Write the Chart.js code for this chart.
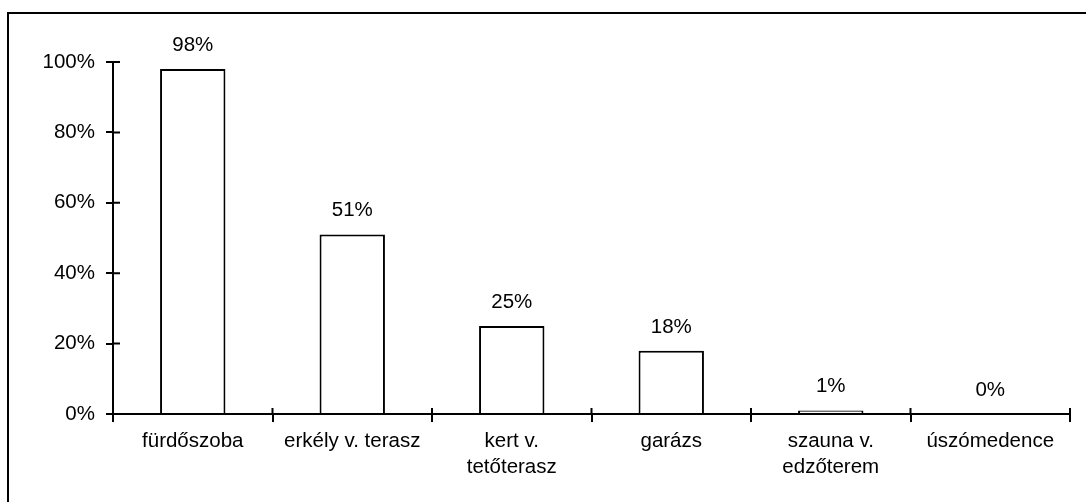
<!DOCTYPE html>
<html>
<head>
<meta charset="utf-8">
<script src="https://cdn.jsdelivr.net/npm/chart.js@4/dist/chart.umd.min.js"></script>
<style>
html,body{margin:0;padding:0;background:#fff;}
canvas{display:block;}
</style>
</head>
<body>
<canvas id="c" width="1087" height="502"></canvas>
<script>
const categories = ['fürdőszoba', 'erkély v. terasz', ['kert v.', 'tetőterasz'], 'garázs', ['szauna v.', 'edzőterem'], 'úszómedence'];
const values = [98, 51, 25, 18, 1, 0];
const valueLabels = ['98%', '51%', '25%', '18%', '1%', '0%'];
const yMin = 0, yMax = 100, yStep = 20;

const FONT = '"Liberation Sans", Arial, sans-serif';
const FSIZE = 20.5;

const decor = {
  id: 'decor',
  beforeDraw(chart) {
    const ctx = chart.ctx;
    ctx.save();
    ctx.fillStyle = '#fff';
    ctx.fillRect(0, 0, chart.width, chart.height);
    ctx.strokeStyle = '#000';
    ctx.lineWidth = 2;
    ctx.beginPath();
    ctx.moveTo(8, chart.height + 5);
    ctx.lineTo(8, 13);
    ctx.lineTo(chart.width - 1, 13);
    ctx.stroke();
    ctx.restore();
  },
  afterDraw(chart) {
    const ctx = chart.ctx;
    const xs = chart.scales.x, ys = chart.scales.y;
    ctx.save();
    ctx.strokeStyle = '#000';
    ctx.lineWidth = 2;
    ctx.beginPath();
    const half = (xs.getPixelForTick(1) - xs.getPixelForTick(0)) / 2;
    for (let i = 0; i <= categories.length; i++) {
      const px = i < categories.length ? xs.getPixelForTick(i) - half
                                        : xs.getPixelForTick(categories.length - 1) + half;
      ctx.moveTo(px, ys.bottom);
      ctx.lineTo(px, ys.bottom - 6);
    }
    ys.ticks.forEach((t, i) => {
      const py = ys.getPixelForTick(i);
      ctx.moveTo(xs.left, py);
      ctx.lineTo(xs.left + 7, py);
    });
    ctx.stroke();
    ctx.fillStyle = '#000';
    ctx.font = FSIZE + 'px ' + FONT;
    ctx.textAlign = 'center';
    ctx.textBaseline = 'alphabetic';
    const meta = chart.getDatasetMeta(0);
    meta.data.forEach((bar, i) => {
      ctx.fillText(valueLabels[i], bar.x, bar.y - 18);
    });
    ctx.restore();
  }
};

new Chart(document.getElementById('c'), {
  type: 'bar',
  data: {
    labels: categories,
    datasets: [{
      data: values,
      backgroundColor: '#fff',
      borderColor: '#000',
      borderWidth: 2,
      barPercentage: 0.41,
      categoryPercentage: 1
    }]
  },
  options: {
    responsive: false,
    animation: false,
    devicePixelRatio: 1,
    layout: { padding: { left: 0, top: 62, right: 17, bottom: 0 } },
    plugins: { legend: { display: false }, tooltip: { enabled: false } },
    scales: {
      x: {
        offset: true,
        grid: { offset: true, drawOnChartArea: false, drawTicks: true, tickLength: 8, color: '#000', lineWidth: 2 },
        border: { display: true, color: '#000', width: 2 },
        ticks: { color: '#000', font: { family: FONT, size: FSIZE, lineHeight: 1.24 }, padding: 7, maxRotation: 0, autoSkip: false },
        afterFit(s) { s.height = 88; }
      },
      y: {
        min: yMin, max: yMax,
        grid: { drawOnChartArea: false, drawTicks: true, tickLength: 7, color: '#000', lineWidth: 2 },
        border: { display: true, color: '#000', width: 2 },
        ticks: { stepSize: yStep, color: '#000', font: { family: FONT, size: FSIZE }, padding: 11, callback: v => v + '%' },
        afterFit(s) { s.width = 113; }
      }
    }
  },
  plugins: [decor]
});
</script>
</body>
</html>
